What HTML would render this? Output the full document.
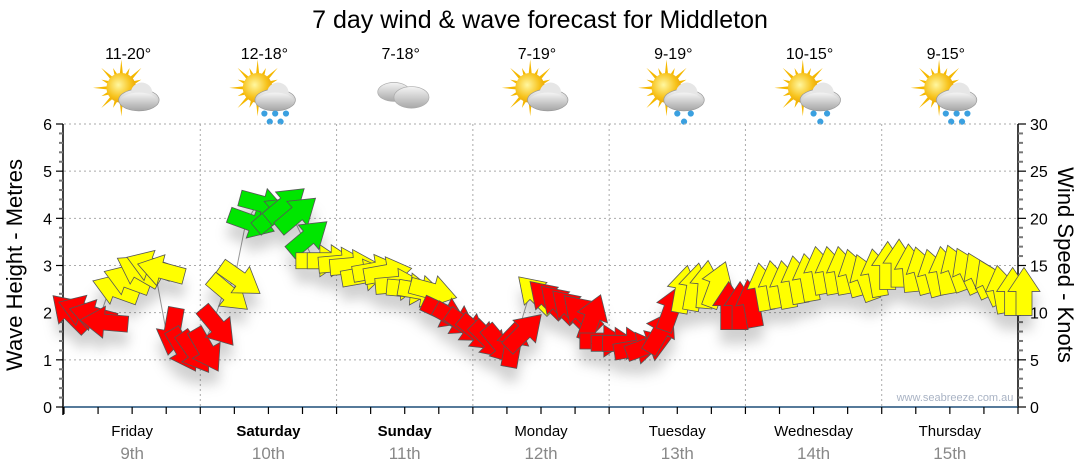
<!DOCTYPE html>
<html><head><meta charset="utf-8">
<style>
html,body{margin:0;padding:0;background:#fff;}
svg{display:block;font-family:"Liberation Sans",sans-serif;}
</style></head>
<body>
<svg id="chart" width="1080" height="475" viewBox="0 0 1080 475">
<defs>
 <filter id="sh" x="-50%" y="-50%" width="200%" height="250%">
  <feDropShadow dx="0" dy="14" stdDeviation="6" flood-color="#000" flood-opacity="0.18"/>
 </filter>
 <radialGradient id="sunG" cx="0.4" cy="0.4" r="0.7"><stop offset="0" stop-color="#fff7a0"/><stop offset="0.6" stop-color="#f7c21a"/><stop offset="1" stop-color="#e59a00"/></radialGradient>
 <linearGradient id="cloudG" x1="0" y1="0" x2="0" y2="1"><stop offset="0" stop-color="#f4f4f4"/><stop offset="1" stop-color="#a8a8a8"/></linearGradient>
</defs>
<text x="540" y="28" text-anchor="middle" font-size="25" fill="#000">7 day wind &amp; wave forecast for Middleton</text>
<g id="header"></g>
<g id="grid"></g>
<g id="axes"></g>
<g id="series"></g>
<text x="955" y="401" text-anchor="middle" font-size="11" fill="#a9b3c4">www.seabreeze.com.au</text>
<text transform="translate(22,265) rotate(-90)" text-anchor="middle" font-size="22" fill="#000">Wave Height - Metres</text>
<text transform="translate(1058,265) rotate(90)" text-anchor="middle" font-size="22" fill="#000">Wind Speed - Knots</text>
</svg>
<script>
const dayNames=["Friday","Saturday","Sunday","Monday","Tuesday","Wednesday","Thursday"];
const dayDates=["9th","10th","11th","12th","13th","14th","15th"];
const boldDays=[false,true,true,false,false,false,false];
const temps=["11-20°","12-18°","7-18°","7-19°","9-19°","10-15°","9-15°"];
const icons=["suncloud","sunrain","cloud","suncloud","sunrain2","sunrain2","sunrain"];
const waveTicks=[0,1,2,3,4,5,6];
const windTicks=[0,5,10,15,20,25,30];
const hours=[0,2,4,6,8,10,12,14,16,18,20,22,24,26,28,30,32,34,36,38,40,42,44,46,48,50,52,54,56,58,60,62,64,66,68,70,72,74,76,78,80,82,84,86,88,90,92,94,96,98,100,102,104,106,108,110,112,114,116,118,120,122,124,126,128,130,132,134,136,138,140,142,144,146,148,150,152,154,156,158,160,162,164,166,168];
const wave=[2.0,2.05,1.95,1.8,2.5,2.7,2.9,3.0,2.9,1.6,1.2,1.15,1.2,1.7,2.4,2.7,3.9,4.3,4.1,4.3,4.1,3.6,3.1,3.1,3.05,3.0,2.8,2.9,2.85,2.6,2.5,2.45,2.45,2.0,1.85,1.7,1.55,1.4,1.3,1.35,1.6,2.4,2.3,2.2,2.1,2.0,1.9,1.4,1.35,1.35,1.25,1.3,1.6,2.1,2.5,2.55,2.6,2.6,2.15,2.15,2.2,2.55,2.6,2.6,2.7,2.75,2.9,2.9,2.9,2.85,2.75,2.85,3.0,3.05,2.95,2.9,2.85,2.9,2.95,2.9,2.8,2.65,2.5,2.45,2.45];
const windDir=[225,200,195,185,200,200,210,200,195,100,60,55,60,50,40,35,20,15,-40,-40,-40,-40,0,0,-5,-5,-10,-10,-10,-5,5,10,15,25,30,35,40,45,50,-80,-45,-135,-135,-135,-135,-135,-70,0,0,0,-10,-20,-60,-70,-80,-80,-85,-70,-90,-90,-100,-100,-100,-100,-100,-100,-100,-100,-100,-105,-110,-100,-90,-90,-95,-105,-105,-100,-110,-115,-115,-115,-100,-90,-90];
const windCol=["r","r","r","r","y","y","y","y","y","r","r","r","r","r","y","y","g","g","g","g","g","g","y","y","y","y","y","y","y","y","y","y","y","r","r","r","r","r","r","r","r","y","r","r","r","r","r","r","r","r","r","r","r","r","y","y","y","y","r","r","r","y","y","y","y","y","y","y","y","y","y","y","y","y","y","y","y","y","y","y","y","y","y","y","y"];

const NS="http://www.w3.org/2000/svg";
const X0=64,X1=1018,Y0=407,Y6=124;
const xS=h=>X0+(X1-X0)*h/168;
const yW=w=>Y0-(Y0-Y6)*w/6;
const yK=k=>Y0-(Y0-Y6)*k/30;
function mk(tag,attrs,parent){const e=document.createElementNS(NS,tag);for(const k in attrs)e.setAttribute(k,attrs[k]);parent.appendChild(e);return e;}
const grid=document.getElementById('grid'),axes=document.getElementById('axes'),series=document.getElementById('series'),header=document.getElementById('header');

for(const t of waveTicks){ if(t===0)continue;
 const l=mk('line',{x1:X0,x2:X1,y1:yW(t),y2:yW(t),stroke:'#aaa','stroke-dasharray':'2,3','stroke-width':1},grid);
 
 
}
for(let d=1;d<=7;d++){
 const l=mk('line',{x1:xS(d*24),x2:xS(d*24),y1:Y6,y2:Y0,stroke:'#aaa','stroke-dasharray':'2,3','stroke-width':1},grid);
 
 
}
mk('line',{x1:X0-1,x2:X0-1,y1:Y6,y2:Y0+8,stroke:'#000','stroke-width':1.5},axes);
for(let i=0;i<=30;i++){const v=i*0.2;const y=yW(v);mk('line',{x1:X0-(i%5==0?8:5),x2:X0-1,y1:y,y2:y,stroke:i%5==0?'#000':'#777','stroke-width':i%5==0?1.2:2},axes);}
for(const t of waveTicks){
 const tx=mk('text',{x:X0-12,y:yW(t)+6,'text-anchor':'end','font-size':16,fill:'#000'},axes);tx.textContent=t;
 
 
}
mk('line',{x1:X1,x2:X1,y1:Y6,y2:Y0,stroke:'#000','stroke-width':1.5},axes);
for(let i=0;i<=30;i++){const y=yK(i);mk('line',{x1:X1,x2:X1+(i%5==0?8:5),y1:y,y2:y,stroke:i%5==0?'#000':'#777','stroke-width':i%5==0?1.2:2},axes);}
for(const t of windTicks){
 const tx=mk('text',{x:X1+12,y:yK(t)+6,'font-size':16,fill:'#000'},axes);tx.textContent=t;
 
 
}
mk('line',{x1:X0,x2:X1,y1:Y0,y2:Y0,stroke:'#1f4e79','stroke-width':1.5},axes);
for(let h=0;h<=168;h+=6){mk('line',{x1:xS(h),x2:xS(h),y1:Y0,y2:Y0+7,stroke:'#000','stroke-width':1.2},axes);}
dayNames.forEach((n,i)=>{
 const cx=xS(i*24+12);
 const a=mk('text',{x:cx,y:436,'text-anchor':'middle','font-size':15,fill:'#000','font-weight':boldDays[i]?'bold':'normal'},axes);a.textContent=n;
 
 
 const b=mk('text',{x:cx,y:459,'text-anchor':'middle','font-size':17,fill:'#888'},axes);b.textContent=dayDates[i];
 
 
 const t=mk('text',{x:cx-4,y:59,'text-anchor':'middle','font-size':16,fill:'#000'},header);t.textContent=temps[i];
 
 
 drawIcon(icons[i],cx);
});
function drawIcon(kind,cx){
 const outer=mk('g',{transform:`translate(${cx},96) scale(1.35) translate(${-cx},-96)`},header);
 const g=mk('g',{},outer);
 
 
 if(kind!=='cloud'){
  const sx=cx-8,sy=90;
  for(let k=0;k<16;k++){const a=k*Math.PI/8;const r2=k%2?16:21;
   mk('polygon',{points:`${sx+Math.cos(a-0.12)*10},${sy+Math.sin(a-0.12)*10} ${sx+Math.cos(a)*r2},${sy+Math.sin(a)*r2} ${sx+Math.cos(a+0.12)*10},${sy+Math.sin(a+0.12)*10}`,fill:'#f5b800'},g);}
  mk('circle',{cx:sx,cy:sy,r:11,fill:'url(#sunG)'},g);
  const c=cx+5,cy=99;
  mk('ellipse',{cx:c,cy:cy,rx:15,ry:8,fill:'url(#cloudG)',stroke:'#999','stroke-width':0.5},g);
  mk('circle',{cx:c+2,cy:cy-5,r:8,fill:'#e6e6e6'},g);
  mk('ellipse',{cx:c,cy:cy+1,rx:14,ry:6.5,fill:'url(#cloudG)'},g);
  if(kind.startsWith('sunrain')){
   const drops=kind==='sunrain'?[[-8,109],[0,109],[8,109],[-4,115],[4,115]]:[[-5,109],[5,109],[0,115]];
   drops.forEach(d=>mk('circle',{cx:c+d[0],cy:d[1],r:2.3,fill:'#3aa0e0'},g));
  }
 } else {
  mk('ellipse',{cx:cx-8,cy:93,rx:12,ry:7,fill:'url(#cloudG)',stroke:'#aaa','stroke-width':0.5},g);
  mk('ellipse',{cx:cx+5,cy:97,rx:13,ry:8,fill:'url(#cloudG)',stroke:'#aaa','stroke-width':0.5},g);
 }
}
const pts=hours.map((h,i)=>`${xS(h)},${yW(wave[i])}`).join(' ');
const pl=mk('polyline',{points:pts,fill:'none',stroke:'#999','stroke-width':1},series);


const colors={r:'#ff0000',y:'#ffff00',g:'#00e600'};
const arrowPath="M-24,-8 L0,-8 L0,-16 L24,0 L0,16 L0,8 L-24,8 Z";
const ag=mk('g',{filter:'url(#sh)'},series);
hours.forEach((h,i)=>{
 const p=mk('path',{d:arrowPath,fill:colors[windCol[i]],stroke:'#555','stroke-width':0.8,'stroke-linejoin':'miter',transform:`translate(${xS(h)+6},${yW(wave[i])}) rotate(${windDir[i]})`},ag);
 
 
});
</script>
</body></html>
